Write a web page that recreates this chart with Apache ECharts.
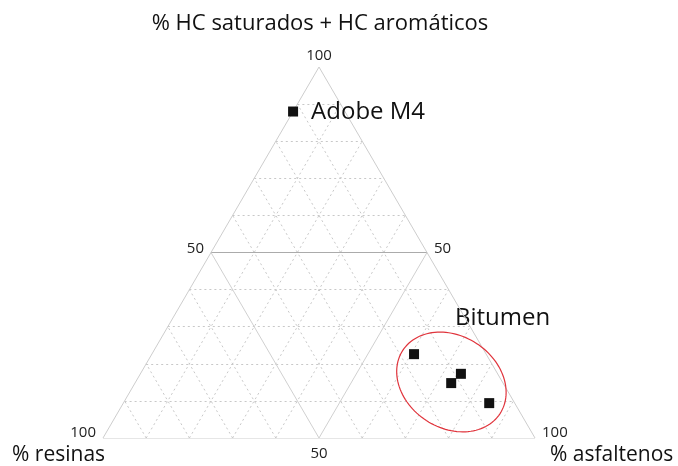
<!DOCTYPE html>
<html>
<head>
<meta charset="utf-8">
<script src="https://cdn.jsdelivr.net/npm/echarts@6/dist/echarts.min.js"></script>
<style>
html,body{margin:0;padding:0;background:#fff;}
#c{width:678px;height:466px;}
</style>
</head>
<body>
<div id="c"></div>
<script>
// ---- data (ternary %: S = HC saturados + HC aromáticos, A = asfaltenos, R = resinas) ----
var sampleNames = ['Adobe M4', 'Bitumen', 'Bitumen', 'Bitumen', 'Bitumen'];
var satAromValues = [88, 22.6, 17.3, 14.8, 9.4];
var asphalteneValues = [0, 60.7, 74.2, 73.2, 84.7];
var resinValues = [12, 16.7, 8.5, 12.0, 5.9];
var gridTicks = [10, 20, 30, 40, 50, 60, 70, 80, 90];
var vertexLabels = ['100', '50'];
var axisTitles = ['% HC saturados + HC aromáticos', '% resinas', '% asfaltenos'];
var groupLabel = 'Bitumen';
var bitumenCenter = {sat: 15.1, asph: 73.1};

// ternary -> cartesian (x: 0..100 across base, y: S)
function tern(s, a) { return [a + s / 2, s]; }

var FONT = '"Open Sans", "Noto Sans", sans-serif';

var dashedLines = [], midLinesH = [], midLinesD = [];
gridTicks.forEach(function (t) {
  var segs = [
    [tern(t, 0), tern(t, 100 - t)],            // constant S
    [tern(0, t), tern(100 - t, t)],            // constant A
    [tern(0, 100 - t), tern(100 - t, 0)]       // constant R
  ];
  segs.forEach(function (c, k) {
    if (t === 50) { (k === 0 ? midLinesH : midLinesD).push({coords: c}); }
    else dashedLines.push({coords: c});
  });
});
var outline = [
  {coords: [tern(0, 0), tern(0, 100)]},
  {coords: [tern(0, 100), tern(100, 0)]},
  {coords: [tern(100, 0), tern(0, 0)]}
];

var points = satAromValues.map(function (s, i) {
  var p = tern(s, asphalteneValues[i]);
  return {value: p, name: sampleNames[i],
    label: {show: i === 0}};
});

var tickPts = [
  {value: tern(100, 0), label: {formatter: vertexLabels[0], position: 'top', distance: 4}},
  {value: tern(50, 0), label: {formatter: vertexLabels[1], position: 'left', distance: 7, offset: [0, -4]}},
  {value: tern(50, 50), label: {formatter: vertexLabels[1], position: 'right', distance: 7, offset: [0, -4]}},
  {value: tern(0, 0), label: {formatter: vertexLabels[0], position: 'left', distance: 7, offset: [0, -5]}},
  {value: tern(0, 50), label: {formatter: vertexLabels[1], position: 'bottom', distance: 8}},
  {value: tern(0, 100), label: {formatter: vertexLabels[0], position: 'right', distance: 7, offset: [0, -5]}}
];

var chart = echarts.init(document.getElementById('c'), null, {renderer: 'canvas'});
chart.setOption({
  animation: false,
  backgroundColor: '#fff',
  grid: {left: 103, top: 67, width: 432, height: 371},
  xAxis: {type: 'value', min: 0, max: 100, show: false},
  yAxis: {type: 'value', min: 0, max: 100, show: false},
  series: [
    {type: 'lines', coordinateSystem: 'cartesian2d', silent: true, z: 1,
      lineStyle: {color: '#c8c8c8', width: 1, type: [2, 3], opacity: 1},
      data: dashedLines},
    {type: 'lines', coordinateSystem: 'cartesian2d', silent: true, z: 2,
      lineStyle: {color: '#d0d0d0', width: 1, type: 'solid', opacity: 1},
      data: midLinesD},
    {type: 'lines', coordinateSystem: 'cartesian2d', silent: true, z: 2,
      lineStyle: {color: '#ababab', width: 1, type: 'solid', opacity: 1},
      data: midLinesH},
    {type: 'lines', coordinateSystem: 'cartesian2d', silent: true, z: 2,
      lineStyle: {color: '#cdcdcd', width: 1, type: 'solid', opacity: 1},
      data: outline},
    {type: 'custom', z: 3, silent: true,
      data: [tern(bitumenCenter.sat, bitumenCenter.asph)],
      renderItem: function (params, api) {
        var c = api.coord([api.value(0), api.value(1)]);
        var a = 58, b = 46, th = 33 * Math.PI / 180;
        var pts = [];
        for (var k = 0; k < 120; k++) {
          var t = k / 120 * Math.PI * 2;
          var ex = a * Math.cos(t), ey = b * Math.sin(t);
          pts.push([c[0] + ex * Math.cos(th) - ey * Math.sin(th),
                    c[1] + ex * Math.sin(th) + ey * Math.cos(th)]);
        }
        return {type: 'polygon', shape: {points: pts},
          style: {fill: 'none', stroke: '#e0343c', lineWidth: 1.2}};
      }},
    {type: 'scatter', z: 5, symbol: 'rect', symbolSize: 10,
      itemStyle: {color: '#111', opacity: 1},
      label: {position: 'right', distance: 13, offset: [0, 1], formatter: '{b}',
        color: '#111', fontSize: 24, fontFamily: FONT},
      data: points},
    {type: 'scatter', z: 4, symbolSize: 0, silent: true,
      itemStyle: {opacity: 1},
      label: {show: true, color: '#222', fontSize: 15, fontFamily: FONT},
      data: tickPts}
  ],
  graphic: [
    {type: 'text', x: 320, y: 24,
      style: {text: axisTitles[0], fontSize: 22, fontFamily: FONT, fill: '#111', align: 'center', verticalAlign: 'middle'}},
    {type: 'text', x: 12, y: 455, style: {text: axisTitles[1], fontSize: 21, fontFamily: FONT, fill: '#111', verticalAlign: 'middle'}},
    {type: 'text', x: 550, y: 455, style: {text: axisTitles[2], fontSize: 21, fontFamily: FONT, fill: '#111', verticalAlign: 'middle'}},
    {type: 'text', x: 455, y: 318, style: {text: groupLabel, fontSize: 24, fontFamily: FONT, fill: '#111', verticalAlign: 'middle'}}
  ]
});
</script>
</body>
</html>
